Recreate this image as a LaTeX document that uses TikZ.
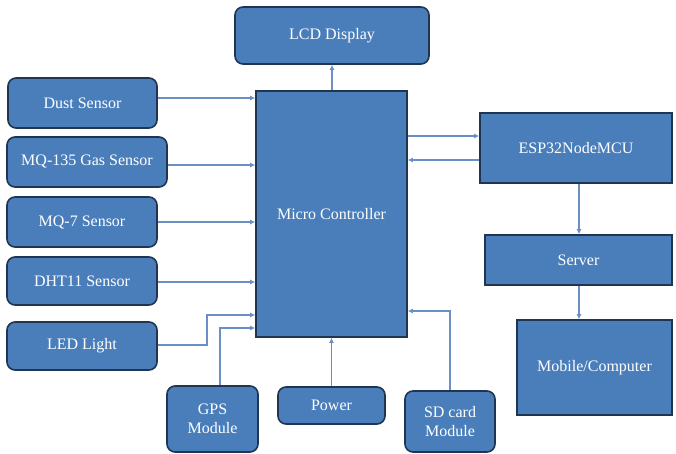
\documentclass[tikz,border=0pt]{standalone}
\usepackage{fontspec}
\setmainfont{Liberation Serif}
\usetikzlibrary{arrows.meta}
\definecolor{boxfill}{HTML}{4A7EBB}
\definecolor{boxline}{HTML}{1F3550}
\definecolor{arrcol}{HTML}{6A8FC4}
\begin{document}
\begin{tikzpicture}[x=1pt,y=-1pt,
  base/.style={draw=boxline, line width=1.6pt, fill=boxfill, text=white,
    font=\fontsize{16}{19}\selectfont, align=center, inner sep=0pt},
  rbox/.style={base, rounded corners=8pt},
  sbox/.style={base},
  arr/.style={draw=arrcol, line width=1.8pt, -{Latex[length=5pt,width=5pt]}}]
\useasboundingbox (0,0) rectangle (676,454);

\node[rbox, minimum width=194pt, minimum height=57pt] (lcd) at (332,35.5) {LCD Display};
\node[rbox, minimum width=149pt, minimum height=50pt] (dust) at (82.5,103) {Dust Sensor};
\node[rbox, minimum width=160pt, minimum height=50pt] (mq135) at (87,162) {MQ-135 Gas Sensor};
\node[rbox, minimum width=150pt, minimum height=50pt] (mq7) at (82,222) {MQ-7 Sensor};
\node[rbox, minimum width=150pt, minimum height=48pt] (dht) at (82,281) {DHT11 Sensor};
\node[rbox, minimum width=150pt, minimum height=48pt] (led) at (82,346) {LED Light};
\node[sbox, minimum width=151pt, minimum height=246pt] (mc) at (331.5,214) {Micro Controller};
\node[sbox, minimum width=192pt, minimum height=70pt] (esp) at (576,148) {ESP32NodeMCU};
\node[sbox, minimum width=187pt, minimum height=50pt] (server) at (578.5,260) {Server};
\node[sbox, minimum width=155pt, minimum height=95pt] (mobile) at (594.5,367.5) {Mobile/Computer};
\node[rbox, minimum width=91pt, minimum height=66pt] (gps) at (212.5,419) {GPS\\Module};
\node[rbox, minimum width=107pt, minimum height=37pt] (power) at (331.5,405.5) {Power};
\node[rbox, minimum width=90pt, minimum height=61pt] (sd) at (450,421.5) {SD card\\Module};

\coordinate (ledbend) at (207,315);
\coordinate (gpsy) at (0,328);
\coordinate (sdy) at (0,311);
\coordinate (espout) at (0,136);
\coordinate (espin) at (0,160);

\draw[arr] ([yshift=5pt]dust.east) -- ([yshift=5pt]dust.east -| mc.west);
\draw[arr] ([yshift=-3pt]mq135.east) -- ([yshift=-3pt]mq135.east -| mc.west);
\draw[arr] (mq7.east) -- (mq7.east -| mc.west);
\draw[arr] ([yshift=-1pt]dht.east) -- ([yshift=-1pt]dht.east -| mc.west);
\draw[arr] ([yshift=1pt]led.east) -| (ledbend) -- (ledbend -| mc.west);
\draw[arr] ([xshift=7.5pt]gps.north) |- (gpsy -| mc.west);
\draw[arr] (power.north) -- (power.north |- mc.south);
\draw[arr] (sd.north) |- (sdy -| mc.east);
\draw[arr] (mc.north -| lcd.south) -- (lcd.south);
\draw[arr] (espout -| mc.east) -- (espout -| esp.west);
\draw[arr] (espin -| esp.west) -- (espin -| mc.east);
\draw[arr] ([xshift=3pt]esp.south) -- ([xshift=3pt]esp.south |- server.north);
\draw[arr] ([xshift=0.5pt]server.south) -- ([xshift=0.5pt]server.south |- mobile.north);
\end{tikzpicture}
\end{document}
